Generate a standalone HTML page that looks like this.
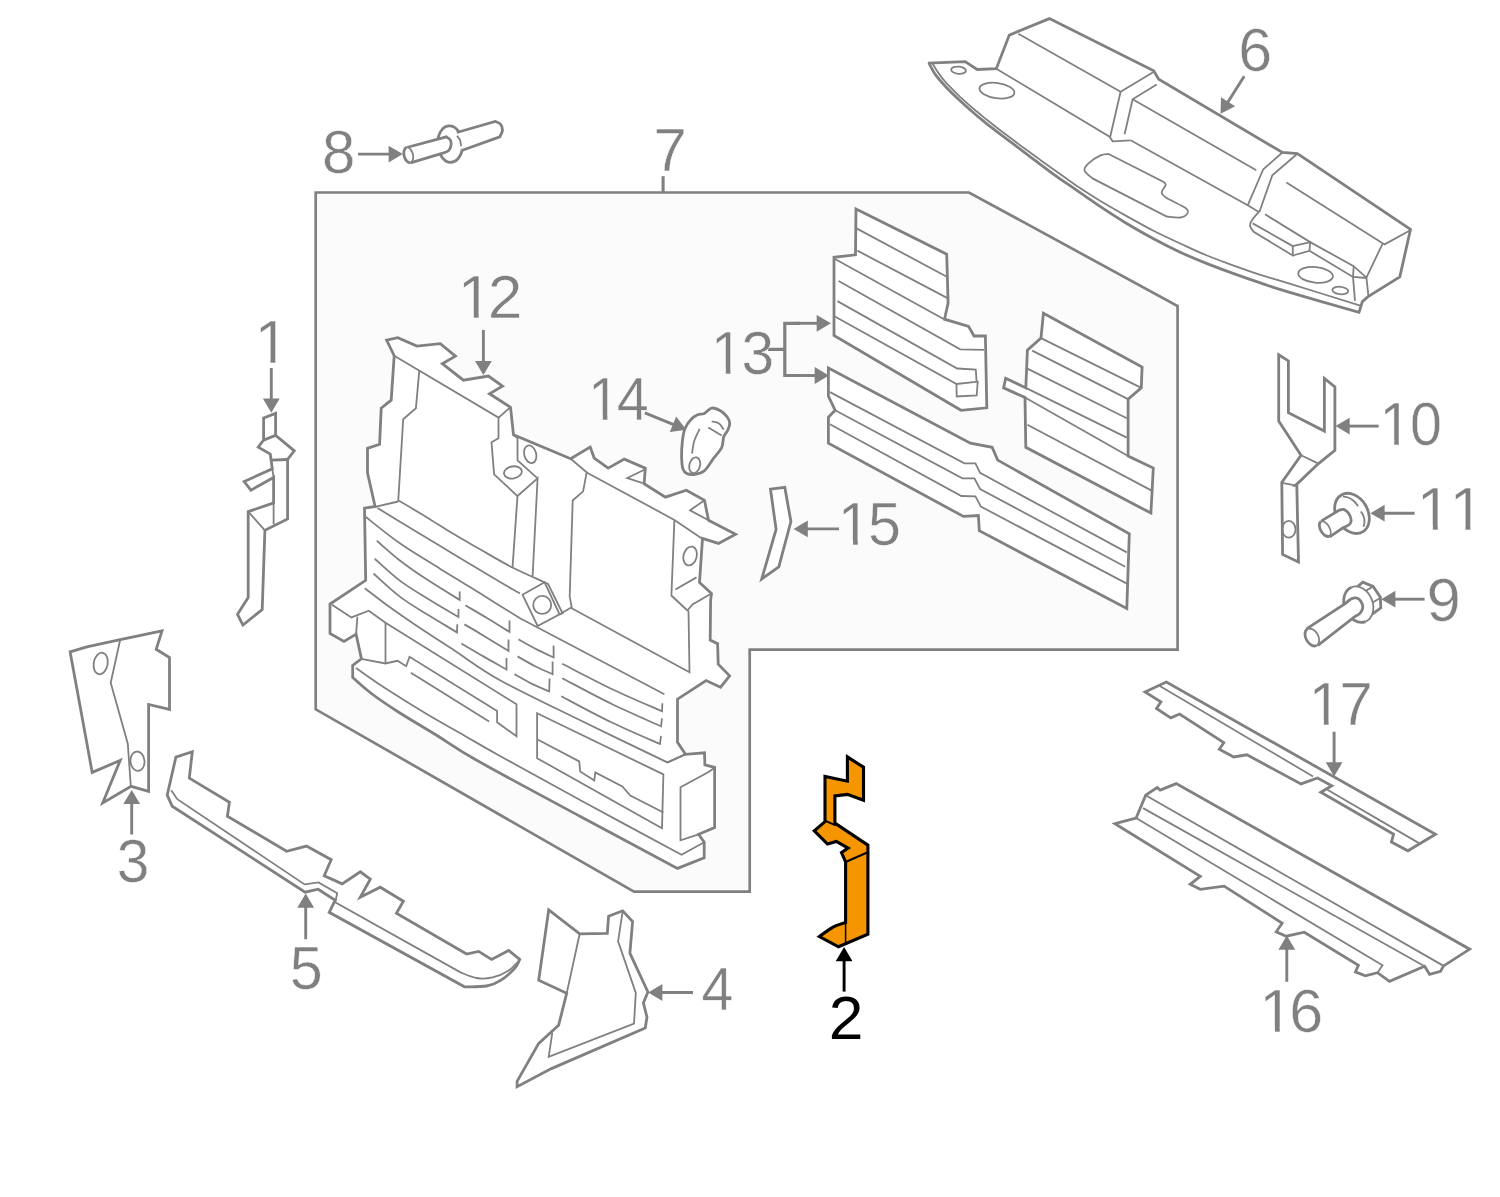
<!DOCTYPE html>
<html lang="en"><head><meta charset="utf-8"><title>Parts diagram</title>
<style>
html,body{margin:0;padding:0;background:#fff;}
svg{display:block;}
svg path, svg ellipse{stroke-linejoin:miter;stroke-linecap:butt;}
svg text{font-family:"Liberation Sans",sans-serif;}
</style></head>
<body>
<svg width="1500" height="1197" viewBox="0 0 1500 1197">
<rect width="1500" height="1197" fill="#ffffff"/>
<path d="M263.6 418 L275.6 413.4 L275.6 435.4 L294.3 450.8 L287.6 459.5 L287.6 519 L264.9 530.3 L262.2 609.6 L242.9 625 L237.5 614.3 L248.2 597.6 L248.2 511.6 L273.6 502.9 L273.6 477.5 L250.9 490.2 L244.2 481.5 L272.3 468.8 L270.3 454.1 L258.2 447.1 L263.6 440.1Z" fill="#ffffff" stroke="#808080" stroke-width="2.8"/>
<path d="M263.6 440.1 L275.6 435.4" fill="none" stroke="#808080" stroke-width="2.8"/>
<path d="M271.2 460.2 L287.6 459.5" fill="none" stroke="#808080" stroke-width="2.8"/>
<path d="M273.6 502.9 L273.6 524.3" fill="none" stroke="#808080" stroke-width="1.8"/>
<path d="M272.3 468.8 L273.6 477.5" fill="none" stroke="#808080" stroke-width="1.8"/>
<path d="M248.2 511.6 L264.9 530.3" fill="none" stroke="#808080" stroke-width="1.8"/>
<path d="M271.3 368 L271.3 400.6" stroke="#808080" stroke-width="2.9" fill="none"/>
<path d="M271.3 412.8 L262.9 398.6 L279.7 398.6 Z" fill="#808080"/>
<path d="M70.1 651.8 L86.8 646.8 L120.2 639.7 L162 630.9 L156.2 649.3 L169.5 657.6 L169.5 709.4 L148.6 704.4 L148.6 791.3 L131.1 786.3 L102.7 803 L120.2 760.4 L92.2 772.4Z" fill="#ffffff" stroke="#808080" stroke-width="2.8"/>
<path d="M120.2 639.7 L110.7 682.7 L127.8 743.7 L130.8 786.3" fill="none" stroke="#808080" stroke-width="1.8"/>
<ellipse cx="100.7" cy="663.5" rx="7" ry="10.9" transform="rotate(10 100.7 663.5)" fill="none" stroke="#808080" stroke-width="1.8"/>
<ellipse cx="137.5" cy="761.2" rx="7" ry="9.7" transform="rotate(-5 137.5 761.2)" fill="none" stroke="#808080" stroke-width="1.8"/>
<path d="M131.7 834.5 L131.7 802.1" stroke="#808080" stroke-width="2.9" fill="none"/>
<path d="M131.7 789.9 L140.1 804.1 L123.3 804.1 Z" fill="#808080"/>
<path d="M175.9 757.1 L192.3 751.7 L189.3 778.1 L229.4 802.2 L227.4 816.2 L286.6 851.3 L306.5 846.1 L331.2 859.7 L324.2 875.8 L342.2 883.8 L360.3 871.8 L370.3 879.2 L360.3 897.2 L380.3 887.2 L403.4 901.2 L396.4 913.3 L466.6 954 L478.6 951.4 L491.6 959.4 L508.7 950.4 L519.7 959.4 C518.9 960.9 517.9 964.9 514.7 968.4 C511.5 971.9 505.3 977.5 500.6 980.4 C496 983.4 492.6 985 486.6 986 C480.6 987.1 468.2 986.7 464.5 986.8 L329.2 912.3 L335.2 900.2 L318.2 889.2 L305.1 892.2 L172.2 806.2 L167.2 795.2Z" fill="#ffffff" stroke="#808080" stroke-width="2.8"/>
<path d="M171.2 790.2 L177.3 799.2 L304.6 884.4 L318.6 882.4 L337.2 893.2 L335.2 902.2 L460.5 972.4 C463.2 973.3 471.2 977.2 476.6 978 C481.9 978.9 487.3 978.7 492.6 977.4 C498 976.1 504.2 973.3 508.7 970.4 C513.2 967.5 517.9 961.7 519.7 960" fill="none" stroke="#808080" stroke-width="1.8"/>
<path d="M305.7 939.2 L305.7 905.8" stroke="#808080" stroke-width="2.9" fill="none"/>
<path d="M305.7 893.6 L314.1 907.8 L297.3 907.8 Z" fill="#808080"/>
<path d="M548.7 909.8 L579.7 933.8 L607.3 933.3 L608.6 916.2 L622.7 910.8 L632.6 921.6 L629.9 953.2 L647.9 992 L643.4 1002.8 L647 1017.2 L645.2 1028 L551.4 1068.6 L517.1 1086.7 L517.1 1081.3 L538.7 1043.4 L558.6 1025.3 L566.7 993.2 L538.7 980.2Z" fill="#ffffff" stroke="#808080" stroke-width="2.8"/>
<path d="M579.7 933.8 L566.7 993.2" fill="none" stroke="#808080" stroke-width="1.8"/>
<path d="M622.7 910.8 L618.1 941.4 L635.8 992.9 L634 1023.5 L548.7 1056.9 L552.3 1032.6" fill="none" stroke="#808080" stroke-width="1.8"/>
<path d="M693 992.5 L660.4 992.5" stroke="#808080" stroke-width="2.9" fill="none"/>
<path d="M648.2 992.5 L662.4 984.1 L662.4 1000.9 Z" fill="#808080"/>
<path d="M847.4 756.9 L863.5 767.2 L863.5 800.3 L847.4 794.4 L834.9 795.9 L834.9 823.1 L867.9 845.1 L867.9 934.3 L838.5 946.8 L819.4 936.5 C821.6 934.9 828.3 929.7 832.6 927.3 C837 925 843.4 923.3 845.6 922.5 L845.6 862 L841.5 852.5 L848.1 848.1 L836.3 841.5 L827.5 844.1 L814.3 830.9 L825 821.6 L825 776.5 L847.4 781.2Z" fill="#f59600" stroke="#000000" stroke-width="3.1"/>
<path d="M825 820.6 L835.6 825.3" fill="none" stroke="#000000" stroke-width="1.9"/>
<path d="M845.6 862 L867.2 852.5" fill="none" stroke="#000000" stroke-width="2.1"/>
<path d="M845.6 922.5 L845.6 943.8" fill="none" stroke="#000000" stroke-width="1.5"/>
<path d="M844.1 991.6 L844.1 959.2" stroke="#000000" stroke-width="2.9" fill="none"/>
<path d="M844.1 947 L852.5 961.2 L835.7 961.2 Z" fill="#000000"/>
<path d="M928.1 63.1 L965.2 61.7 L977.2 69.5 L996.3 68.7 L1009.3 35.1 L1049.4 18.6 L1153.7 70.8 L1158.7 79.2 L1282.4 152.5 L1297.4 153.7 L1410.5 229.4 L1399.8 276.9 L1367.7 296.9 L1362.4 301.6 L1359 312.3 C1347 308.9 1303.6 296.5 1287.2 291.6 C1270.7 286.7 1269.3 286 1260.4 282.9 C1251.5 279.9 1242.6 276.8 1233.7 273.6 C1224.8 270.4 1215.9 267.1 1207 263.6 C1198 260 1189.1 256.3 1180.2 252.2 C1171.3 248.1 1162.4 243.6 1153.5 238.8 C1144.6 234 1135.7 228.9 1126.7 223.5 C1117.8 218.1 1107.7 211.5 1100 206.4 C1092.3 201.2 1085.9 196.5 1080.4 192.8 C1074.9 189 1071.5 186.7 1067.1 183.7 C1062.6 180.6 1058.1 177.5 1053.7 174.3 C1049.2 171.1 1044.8 167.6 1040.3 164.3 C1035.9 160.9 1031.4 157.6 1027 154.3 C1022.5 150.9 1018 147.6 1013.6 144.2 C1009.1 140.9 1004.7 137.6 1000.2 134.2 C995.8 130.8 991.3 127.3 986.8 123.8 C982.4 120.2 977.9 116.7 973.5 112.8 C969 109 964.6 105 960.1 100.8 C955.7 96.6 950.7 91.9 946.7 87.7 C942.7 83.5 939.1 79.6 936 75.4 C933 71.2 929.9 64.8 928.7 62.7" fill="#ffffff" stroke="#808080" stroke-width="2.8"/>
<path d="M932.7 64 C933.9 65.9 937.7 72.2 940.1 75.4 C942.4 78.6 943.4 79.9 946.7 83.4 C950.1 87 955.7 92.6 960.1 96.8 C964.6 101 969 105 973.5 108.8 C977.9 112.6 982.4 116.2 986.8 119.8 C991.3 123.3 995.8 126.8 1000.2 130.2 C1004.7 133.6 1009.1 136.9 1013.6 140.2 C1018 143.6 1022.5 147 1027 150.3 C1031.4 153.5 1035.9 156.6 1040.3 159.9 C1044.8 163.1 1049.2 166.4 1053.7 169.6 C1058.1 172.8 1062.6 175.9 1067.1 179 C1071.5 182.1 1074.9 184.7 1080.4 188.3 C1085.9 192 1092.3 196.1 1100 200.7 C1107.7 205.4 1117.8 211.1 1126.7 216.1 C1135.7 221.1 1144.6 226.3 1153.5 230.8 C1162.4 235.4 1171.3 239.4 1180.2 243.5 C1189.1 247.6 1198 251.9 1207 255.5 C1215.9 259.2 1224.8 262.3 1233.7 265.6 C1242.6 268.8 1251.5 272 1260.4 274.9 C1269.3 277.8 1270.5 277.8 1287.2 282.9 C1303.8 288.1 1348.2 301.8 1360.3 305.6" fill="none" stroke="#808080" stroke-width="1.8"/>
<path d="M1018.3 33.7 L1120.6 91.8 L1153.1 72.2" fill="none" stroke="#808080" stroke-width="1.8"/>
<path d="M1120.6 91.8 L1110.2 136.7" fill="none" stroke="#808080" stroke-width="1.8"/>
<path d="M996.3 68.7 L1109.6 136.7 L1112.6 141.3 L1130.6 140.3" fill="none" stroke="#808080" stroke-width="1.8"/>
<path d="M1156.7 84.6 L1132.6 99.2 L1124.6 134.3" fill="none" stroke="#808080" stroke-width="1.8"/>
<path d="M1132.6 99.2 L1256.3 170.2" fill="none" stroke="#808080" stroke-width="1.8"/>
<path d="M1130.6 140.3 L1247.7 205.3 L1259.3 212.3" fill="none" stroke="#808080" stroke-width="1.8"/>
<path d="M1282.4 152.5 L1263.3 169.2 L1247.7 205.3" fill="none" stroke="#808080" stroke-width="1.8"/>
<path d="M1297.4 153.7 L1272.3 175.2 L1259.3 212.3" fill="none" stroke="#808080" stroke-width="1.8"/>
<path d="M1258.7 212.1 C1257.6 213.4 1253.5 217.7 1252.1 220.1 C1250.6 222.4 1249.7 224.1 1250.1 226.1 C1250.4 228.1 1253.4 231.1 1254.1 232.1 L1254.1 232.1 L1292.8 255.5 L1292.8 246.1 L1252.7 223.4" fill="none" stroke="#808080" stroke-width="1.8"/>
<path d="M1292.8 246.1 L1310.2 242.1 L1309.5 250.8 L1292.8 255.5" fill="none" stroke="#808080" stroke-width="1.8"/>
<path d="M1265 214.3 L1310.2 242.1 L1353.7 266.2 L1366.4 277.6 L1368.4 295.6" fill="none" stroke="#808080" stroke-width="1.8"/>
<path d="M1309.5 250.8 L1353 276.9 L1366.4 278" fill="none" stroke="#808080" stroke-width="1.8"/>
<path d="M1353.7 266.2 L1353 276.9 L1355 300.9" fill="none" stroke="#808080" stroke-width="1.8"/>
<path d="M1286.4 182.6 L1384.6 244.4 L1410.3 230.3" fill="none" stroke="#808080" stroke-width="1.8"/>
<path d="M1382.4 244.1 L1366.4 277.6" fill="none" stroke="#808080" stroke-width="1.8"/>
<ellipse cx="1315.6" cy="274.9" rx="17.4" ry="7.8" transform="rotate(6 1315.6 274.9)" fill="none" stroke="#808080" stroke-width="1.8"/>
<ellipse cx="1340.3" cy="290.5" rx="8" ry="3.7" transform="rotate(6 1340.3 290.5)" fill="none" stroke="#808080" stroke-width="1.8"/>
<ellipse cx="958.6" cy="70.2" rx="7.4" ry="3.6" transform="rotate(5 958.6 70.2)" fill="none" stroke="#808080" stroke-width="1.8"/>
<ellipse cx="996.9" cy="90.6" rx="17.6" ry="7.6" transform="rotate(8 996.9 90.6)" fill="none" stroke="#808080" stroke-width="1.8"/>
<path d="M1108.6 154 L1162.7 181.4 C1163.2 182 1165.9 183 1165.7 184.8 C1165.5 186.7 1161.5 190.3 1161.7 192.5 C1161.9 194.7 1162.9 195.6 1166.7 198.1 C1170.6 200.6 1181.2 205.1 1184.8 207.5 C1188.3 209.9 1188.4 210.8 1187.8 212.5 C1187.1 214.2 1184.3 216.9 1180.7 217.5 C1177.2 218.2 1169.1 216.7 1166.7 216.5 L1092.5 178.4 C1091.2 177.1 1085.2 172.9 1084.5 170.4 C1083.8 167.9 1085.8 165.9 1088.5 163.4 C1091.2 160.9 1097.2 156.9 1100.5 155.4 C1103.9 153.8 1107.2 154.2 1108.6 154Z" fill="none" stroke="#808080" stroke-width="1.8"/>
<path d="M1244.2 76.2 L1227 103.5" stroke="#808080" stroke-width="2.9" fill="none"/>
<path d="M1220.5 113.8 L1221 97.3 L1235.2 106.3 Z" fill="#808080"/>
<path d="M315.7 192.5 L969 192.5 L1177.6 306 L1177.6 649.6 L749.7 649.6 L749.7 891.6 L634 891.6 L315.7 709.3 Z" fill="#fbfbfb" stroke="#808080" stroke-width="2.7"/>
<path d="M663.1 176.2 L663.1 192" fill="none" stroke="#808080" stroke-width="3.1"/>
<ellipse cx="450.1" cy="144.1" rx="12.4" ry="18.2" transform="rotate(-4 450.1 144.1)" fill="#ffffff" stroke="#808080" stroke-width="2.8"/>
<path d="M456.8 132.5 L495.2 121.4 C496.1 121.8 499.3 122.6 500.5 124.1 C501.7 125.5 502.6 128 502.5 130.1 C502.4 132.2 500.3 135.6 499.8 136.8 L461.7 150.5" fill="#ffffff" stroke="#808080" stroke-width="2.8"/>
<path d="M457.1 135.8 C457.5 136.5 459.3 138.4 460 140.1 C460.7 141.8 460.9 145.1 461.1 146.1" fill="none" stroke="#808080" stroke-width="1.8"/>
<path d="M406.7 147.5 L446.4 136.8 C447 137.3 449.6 138.7 450.4 140.1 C451.2 141.5 451.4 143.7 451 145.4 C450.7 147.2 449.6 149.6 448.4 150.8 C447.1 152 444.5 152.5 443.7 152.8 L410.5 162.8" fill="#ffffff" stroke="#808080" stroke-width="2.8"/>
<ellipse cx="408.5" cy="155.1" rx="4.8" ry="7.9" transform="rotate(-14 408.5 155.1)" fill="#ffffff" stroke="none"/>
<path d="M406.6 147.4 A4.8 7.9 -14 0 0 410.4 162.7" fill="none" stroke="#808080" stroke-width="2.8"/>
<path d="M406.6 147.4 A4.8 7.9 -14 0 1 410.4 162.7" fill="none" stroke="#808080" stroke-width="1.8"/>
<path d="M358 154.1 L390.6 154.1" stroke="#808080" stroke-width="2.9" fill="none"/>
<path d="M402.8 154.1 L388.6 162.5 L388.6 145.7 Z" fill="#808080"/>
<path d="M1278.7 354.7 L1288.4 360.9 L1288.4 412.7 L1324.4 431.1 L1324.4 378.4 L1334.9 386.8 L1334.9 450.3 L1318.5 463.6 L1295.5 485.4 L1296.8 485.4 L1298.5 561.9 L1282.6 554.4 L1281.8 482.5 L1301 455.3 L1278.7 421Z" fill="#ffffff" stroke="#808080" stroke-width="2.8"/>
<path d="M1301 455.3 L1318.5 463.6" fill="none" stroke="#808080" stroke-width="1.8"/>
<path d="M1281.8 482.9 L1295.5 485.4" fill="none" stroke="#808080" stroke-width="1.8"/>
<clipPath id="c10"><path d="M1278.7 354.7 L1288.4 360.9 L1288.4 412.7 L1324.4 431.1 L1324.4 378.4 L1334.9 386.8 L1334.9 450.3 L1318.5 463.6 L1295.5 485.4 L1296.8 485.4 L1298.5 561.9 L1282.6 554.4 L1281.8 482.5 L1301 455.3 L1278.7 421Z"/></clipPath>
<ellipse cx="1288.8" cy="529.3" rx="6.7" ry="8.4" fill="none" stroke="#808080" stroke-width="1.8" clip-path="url(#c10)"/>
<path d="M1378.7 426.1 L1347.7 426.1" stroke="#808080" stroke-width="2.9" fill="none"/>
<path d="M1335.5 426.1 L1349.7 417.7 L1349.7 434.5 Z" fill="#808080"/>
<ellipse cx="1352" cy="513.4" rx="15.8" ry="21.3" transform="rotate(-30 1352 513.4)" fill="#ffffff" stroke="#808080" stroke-width="2.8"/>
<path d="M1342.8 496.4 C1343.7 496.6 1346.3 496.8 1348.1 497.5 C1349.9 498.2 1351.8 499.3 1353.5 500.7 C1355.1 502.1 1357.4 505.2 1358.2 506.1" fill="none" stroke="#808080" stroke-width="1.8"/>
<path d="M1360.8 511.4 C1361.3 512.2 1362.9 514.4 1363.5 516.1 C1364.1 517.8 1364.5 519.7 1364.5 521.4 C1364.5 523.2 1363.7 525.9 1363.5 526.8" fill="none" stroke="#808080" stroke-width="1.8"/>
<path d="M1321.1 521.1 L1339.4 510.1 C1340.1 510 1342 509 1343.4 509.4 C1344.9 509.9 1346.8 511.1 1348.1 512.7 C1349.4 514.4 1350.9 517.5 1351.1 519.4 C1351.4 521.4 1350.7 523.1 1349.5 524.4 C1348.2 525.8 1344.5 527.1 1343.4 527.6 L1329.7 536.9" fill="#ffffff" stroke="#808080" stroke-width="2.8"/>
<ellipse cx="1325.1" cy="528.9" rx="5.2" ry="8.6" transform="rotate(-30 1325.1 528.9)" fill="#ffffff" stroke="none"/>
<path d="M1320.8 521.5 A5.2 8.6 -30 0 0 1329.3 536.3" fill="none" stroke="#808080" stroke-width="2.8"/>
<path d="M1320.8 521.5 A5.2 8.6 -30 0 1 1329.3 536.3" fill="none" stroke="#808080" stroke-width="1.8"/>
<path d="M1414.6 513.2 L1382.6 513.2" stroke="#808080" stroke-width="2.9" fill="none"/>
<path d="M1370.4 513.2 L1384.6 504.8 L1384.6 521.6 Z" fill="#808080"/>
<path d="M1357.3 586.9 L1362.8 582.1 L1373.1 586.5 L1380.4 597.2 L1380.8 607.9 L1373.5 613.4 L1363.5 606.8" fill="#ffffff" stroke="#808080" stroke-width="2.8"/>
<path d="M1363.5 592.1 L1373.1 586.5" fill="none" stroke="#808080" stroke-width="1.8"/>
<path d="M1371.6 603.1 L1380.4 597.9" fill="none" stroke="#808080" stroke-width="1.8"/>
<ellipse cx="1358.5" cy="604.4" rx="14.1" ry="18.5" transform="rotate(-22 1358.5 604.4)" fill="#ffffff" stroke="none"/>
<path d="M1351.6 587.2 A14.1 18.5 -22 0 0 1365.5 621.6" fill="none" stroke="#808080" stroke-width="2.8"/>
<path d="M1351.6 587.2 A14.1 18.5 -22 0 1 1365.5 621.6" fill="none" stroke="#808080" stroke-width="1.8"/>
<path d="M1306.5 628.8 L1345.9 603.1 C1346.7 602.4 1349.3 599.9 1351 599 C1352.7 598.2 1354.6 597.6 1356.2 597.9 C1357.8 598.2 1359.5 599.3 1360.6 600.9 C1361.7 602.5 1362.9 605.4 1362.8 607.5 C1362.7 609.6 1361.1 611.9 1359.9 613.4 C1358.6 614.8 1356.2 615.7 1355.4 616.2 L1317.9 645.4" fill="#ffffff" stroke="#808080" stroke-width="2.8"/>
<ellipse cx="1312.1" cy="637.3" rx="6.2" ry="9.4" transform="rotate(-30 1312.1 637.3)" fill="#ffffff" stroke="none"/>
<path d="M1307.4 629.1 A6.2 9.4 -30 0 0 1316.8 645.4" fill="none" stroke="#808080" stroke-width="2.8"/>
<path d="M1307.4 629.1 A6.2 9.4 -30 0 1 1316.8 645.4" fill="none" stroke="#808080" stroke-width="1.8"/>
<path d="M1424.6 599.2 L1393.4 599.2" stroke="#808080" stroke-width="2.9" fill="none"/>
<path d="M1381.2 599.2 L1395.4 590.8 L1395.4 607.6 Z" fill="#808080"/>
<path d="M386.6 340.1 L397.8 337.6 L416.9 346.1 L440.3 343.7 L455.4 356.1 L442.3 363.7 L463.4 380.2 L488.4 376.1 L502.5 386.2 L489.5 393.8 L510.5 407.2 L513.5 434.7 L570.7 458.7 L590.2 447.1 L594.2 458.1 L608.2 468.2 L624.3 459.1 L645.3 468.2 L644.1 483.8 L665.4 497.2 L686.4 490.2 L704.5 500.3 L708.5 520.3 L735.6 534.3 L718.5 543.4 L702.5 538.3 L699.5 582.5 L711.5 593.5 L710.6 600 L710.2 640.1 L717.6 643.7 L718.2 664.2 L729.6 675.8 L720.6 687.2 L706.1 680.6 L677.5 699.2 L677.5 742.4 L685.5 754.4 L704.5 752.8 L704.9 764.8 L714.6 767.4 L714.6 827.6 L698.6 834.3 L704.2 842.3 L704.2 857.9 L677.5 868.4 C661.3 859.7 613.7 834.4 580.3 816.4 C546.9 798.5 501 774 477.1 760.5 C453.2 747 450.4 743.8 437 735.5 C423.6 727.2 407.9 718.2 396.8 711 C385.7 703.8 377.4 698.1 370.1 692.5 C362.8 686.9 355.6 680 352.7 677.5 L352.7 677.5 L352.7 665.5 L361.4 658.8 L356.1 634.1 L344 641.4 L330 633.4 L330 604 L365.7 580.3 L364.5 508.1 L375.1 506.5 L367.5 472.8 L367.5 448.3 L379.6 444.3 L381.2 408.2 L391.2 400.2 L394.2 355.7Z" fill="#ffffff" stroke="#808080" stroke-width="2.8"/>
<path d="M394.2 355.7 L498.5 417.6 L510.5 407.2" fill="none" stroke="#808080" stroke-width="1.8"/>
<path d="M419.3 370.5 L415.9 408.2 L403.2 419.2 L398.2 501.5" fill="none" stroke="#808080" stroke-width="1.8"/>
<path d="M375.1 506.9 L398.2 501.5" fill="none" stroke="#808080" stroke-width="1.8"/>
<path d="M498.5 417.6 L498.5 438.3 L491.5 442.3 L494.1 474.4 L517.5 496 L512.5 567.6" fill="none" stroke="#808080" stroke-width="1.8"/>
<path d="M517.5 496 L537.6 478.4 L532.6 576.2" fill="none" stroke="#808080" stroke-width="1.8"/>
<path d="M513.5 434.7 L517.5 438.3 L517.5 460.4 L537.6 478.4" fill="none" stroke="#808080" stroke-width="1.8"/>
<ellipse cx="530.2" cy="454.3" rx="6" ry="9" transform="rotate(-15 530.2 454.3)" fill="none" stroke="#808080" stroke-width="1.8"/>
<ellipse cx="512.9" cy="472.4" rx="9" ry="6" transform="rotate(-10 512.9 472.4)" fill="none" stroke="#808080" stroke-width="1.8"/>
<path d="M570.7 458.7 L586.7 472.4 L583.1 491.4 L572.7 500.5 L569.7 596.3 L571.7 607.3 L571.2 608 L689.5 672.2 L688.5 611" fill="none" stroke="#808080" stroke-width="1.8"/>
<path d="M586.2 472.2 L674.4 519.9 L701.5 538.3" fill="none" stroke="#808080" stroke-width="1.8"/>
<path d="M674.4 519.9 L671.4 595.5 L687.4 610.5" fill="none" stroke="#808080" stroke-width="1.8"/>
<path d="M687.4 610.5 L688.5 611" fill="none" stroke="#808080" stroke-width="1.8"/>
<path d="M687.4 610.5 L692.5 604.5 L711.5 593.5" fill="none" stroke="#808080" stroke-width="1.8"/>
<path d="M675.4 589.5 L696.5 577.4" fill="none" stroke="#808080" stroke-width="1.8"/>
<ellipse cx="690.1" cy="556" rx="6.6" ry="9.6" transform="rotate(15 690.1 556)" fill="none" stroke="#808080" stroke-width="1.8"/>
<path d="M645.3 469.2 L627.3 478 L642.7 483.2" fill="none" stroke="#808080" stroke-width="1.8"/>
<path d="M704.5 500.3 L690.1 510.3 L708.5 520.3" fill="none" stroke="#808080" stroke-width="1.8"/>
<path d="M522.5 594.7 L544.6 582.3 L559.6 614.3 L537.6 626Z" fill="none" stroke="#808080" stroke-width="1.8"/>
<ellipse cx="542.2" cy="604.9" rx="9" ry="9" transform="rotate(0 542.2 604.9)" fill="none" stroke="#808080" stroke-width="1.8"/>
<path d="M544.6 582.3 L548 583.9 L562.6 613.3 L559.6 614.3" fill="none" stroke="#808080" stroke-width="1.8"/>
<path d="M571.7 607.3 L559.6 614.3" fill="none" stroke="#808080" stroke-width="1.8"/>
<path d="M398.9 500.7 C403.6 503.5 417.8 511.8 427 517.4 C436.1 523 444.8 528.8 453.7 534.1 C462.6 539.5 470.6 543.9 480.4 549.5 C490.2 555.1 501.8 562.1 512.5 567.5 C523.2 573 539.3 579.8 544.6 582.3" fill="none" stroke="#808080" stroke-width="1.8"/>
<path d="M377.5 508 C383.5 511.7 400.9 522.4 413.6 530.1 C426.3 537.8 440.3 546.1 453.7 554.2 C467.1 562.2 482.7 571.6 493.8 578.2 C504.8 584.8 515.6 591 520 593.6" fill="none" stroke="#808080" stroke-width="1.8"/>
<path d="M365.5 516.7 C371.2 521.2 387.7 534.8 400.2 543.5 C412.7 552.2 427 560.5 440.3 568.9 C453.7 577.2 467.1 585.3 480.4 593.6 C493.7 601.8 513.4 614.2 520 618.3 L664.4 694.2" fill="none" stroke="#808080" stroke-width="1.8"/>
<path d="M376.8 540.8 C380.7 544.1 391.9 554.4 400.2 560.8 C408.6 567.3 417 573.1 427 579.6 C436.9 586.1 454.2 596.5 459.7 599.9 L459.7 591.6" fill="none" stroke="#808080" stroke-width="1.8"/>
<path d="M374.8 558.8 C379 562.5 391.5 574.3 400.2 580.9 C408.9 587.5 417.3 592.3 427 598.3 C436.6 604.3 453.1 613.9 458.4 617 L458.6 609" fill="none" stroke="#808080" stroke-width="1.8"/>
<path d="M373.5 573.5 C377.9 577.4 391.3 590.1 400.2 596.9 C409.1 603.7 417.5 608.4 427 614.3 C436.4 620.2 452 629.3 457 632.4 L457.3 624.3" fill="none" stroke="#808080" stroke-width="1.8"/>
<path d="M465.4 605.3 C469.1 607.5 480.1 613.9 487.4 618.3 C494.8 622.8 505.8 629.7 509.5 632 L509.5 620.4" fill="none" stroke="#808080" stroke-width="1.8"/>
<path d="M464.4 624.4 C468.1 626.5 479.1 632.9 486.4 637.4 C493.8 641.8 504.8 648.8 508.5 651 L508.5 639.4" fill="none" stroke="#808080" stroke-width="1.8"/>
<path d="M461.4 643.4 C465.1 645.6 475.9 652.1 483.4 656.4 C491 660.8 502.7 667.3 506.5 669.5 L506.5 658" fill="none" stroke="#808080" stroke-width="1.8"/>
<path d="M518.5 639.4 C521.5 641.1 530.7 646.4 536.6 649.4 C542.4 652.4 550.8 656.1 553.6 657.4 L553.6 645.4" fill="none" stroke="#808080" stroke-width="1.8"/>
<path d="M517.5 656.4 C520.5 658.1 529.7 663.5 535.6 666.5 C541.4 669.4 549.8 672.8 552.6 674.1 L552.6 661.5" fill="none" stroke="#808080" stroke-width="1.8"/>
<path d="M514.5 674.1 C517.5 675.8 526.8 681.2 532.6 684.1 C538.3 687 546.4 690.3 549.2 691.5 L549.6 678.5" fill="none" stroke="#808080" stroke-width="1.8"/>
<path d="M562.2 663.8 C570.5 668 595.7 681.3 612.3 689.2 C628.9 697.1 653.7 707.6 662 711.3 L662.4 703.3" fill="none" stroke="#808080" stroke-width="1.8"/>
<path d="M562.2 678.2 C570.5 682.5 595.8 696.2 612.3 704.3 C628.8 712.3 652.9 722.6 661 726.3 L662 718.3" fill="none" stroke="#808080" stroke-width="1.8"/>
<path d="M561.2 696.2 C569.5 700.6 594.8 714.4 611.3 722.3 C627.8 730.3 651.9 740.4 660 744 L661 735.9" fill="none" stroke="#808080" stroke-width="1.8"/>
<path d="M364.8 588.2 C368.5 591 378.7 599.1 386.8 605 C395 610.9 402.4 616.2 413.6 623.7 C424.7 631.2 439.3 640.6 453.7 650 C468.1 659.4 478.9 668.5 500 680.2 C521.1 691.9 552.3 706.6 580.2 720.3 C608.1 734 652.9 755.4 667.4 762.4 L685.5 754.4" fill="none" stroke="#808080" stroke-width="1.8"/>
<path d="M332 604.7 L351.4 617.4 L368.8 610.7 L385.5 622.7 L516.5 704.3 L516.5 736.3 L497.1 722.3 L497.1 710.9 L409.5 656.8 L406.2 666.2 L397.5 660.8 L385.5 663.5 L361.4 658.8" fill="none" stroke="#808080" stroke-width="1.8"/>
<path d="M357.4 616.7 L356.1 634.1" fill="none" stroke="#808080" stroke-width="1.8"/>
<path d="M385.5 622.7 L385.5 663.5" fill="none" stroke="#808080" stroke-width="1.8"/>
<path d="M410.9 672.8 L489.1 721.6" fill="none" stroke="#808080" stroke-width="1.8"/>
<path d="M356 668 C360.8 671.3 373.5 680.5 385 688 C396.5 695.5 411.7 705 425 713 C438.3 721 452.5 728.8 465 736 C477.5 743.2 480.8 745.3 500 756 C519.2 766.7 549.7 783.5 580 800 C610.3 816.5 664.6 845.6 681.5 854.7 L704.2 842.3" fill="none" stroke="#808080" stroke-width="1.8"/>
<path d="M537.1 713.3 L663.4 774.4 L662 828.3 L537.1 758.2 Z" fill="none" stroke="#808080" stroke-width="1.8"/>
<path d="M537.1 739.3 L579.2 761.4 L580.2 771.4 L594.3 780.5 L595.3 772.4 L622.3 786.5 L630.3 795.5 L663.4 812.5" fill="none" stroke="#808080" stroke-width="1.8"/>
<path d="M714.6 767.7 L708.6 772.1 L680.5 787.2 L680.5 840.3 L698.6 834.3" fill="none" stroke="#808080" stroke-width="1.8"/>
<path d="M667.5 762.5 L685.5 754.1" fill="none" stroke="#808080" stroke-width="1.8"/>
<path d="M483.4 330 L483.4 362.9" stroke="#808080" stroke-width="2.9" fill="none"/>
<path d="M483.4 375.1 L475 360.9 L491.8 360.9 Z" fill="#808080"/>
<path d="M856 209 L946.7 254.2 L948.1 303 L944.5 319.2 L968.6 326.4 L974 336 L985.4 336 L986.8 407.8 L961 410.3 L834 335.4 L834 257.3 L855.5 254.8Z" fill="#ffffff" stroke="#808080" stroke-width="2.8"/>
<path d="M856 228.1 L947.3 277" fill="none" stroke="#808080" stroke-width="1.8"/>
<path d="M857.3 250.6 L947.5 298.1" fill="none" stroke="#808080" stroke-width="1.8"/>
<path d="M835 259 L944 319.2" fill="none" stroke="#808080" stroke-width="1.8"/>
<path d="M838.6 281 L960.2 349.3 L984 349.9" fill="none" stroke="#808080" stroke-width="1.8"/>
<path d="M837.4 301.1 L957.2 368.5 L975.8 369.7 L976.6 382" fill="none" stroke="#808080" stroke-width="1.8"/>
<path d="M834.4 316.2 L956.5 384 L977.7 381.7 L976.7 395.5 L956.7 396.5 L956.5 384" fill="none" stroke="#808080" stroke-width="1.8"/>
<path d="M828.4 368 L970.4 443.2 L992.1 447.3 L997.7 460.1 L1129.3 533.9 L1126.8 608.5 L979.3 530.7 L978.4 515.5 L963.4 516.4 L828.4 443.2 L828.4 417.2 L835.1 410.2 L828.4 396.1Z" fill="#ffffff" stroke="#808080" stroke-width="2.8"/>
<path d="M830 392.1 L964.4 463.3 L975.4 463.3 L980.1 472.9 L1126.8 552.4" fill="none" stroke="#808080" stroke-width="1.8"/>
<path d="M835.1 410.2 L962.4 478.3 L974.4 478.3 L980.1 489 L1125.2 566.8" fill="none" stroke="#808080" stroke-width="1.8"/>
<path d="M830 424.2 L961.4 496 L975.4 496.4 L980.9 506.6 L1126.8 583.6" fill="none" stroke="#808080" stroke-width="1.8"/>
<path d="M1043.4 313.3 L1142.1 367 L1141.3 387.9 L1128.1 399.1 L1128.1 456 L1153.3 468.1 L1150.9 513.1 L1025.8 447.3 L1025 397.5 L1003.6 387.9 L1005.7 378.2 L1025.8 387.9 L1027.4 350.2 L1041 338.1Z" fill="#ffffff" stroke="#808080" stroke-width="2.8"/>
<path d="M1041 338.1 L1141.3 387.9" fill="none" stroke="#808080" stroke-width="1.8"/>
<path d="M1032.2 350.6 L1128.1 399.1" fill="none" stroke="#808080" stroke-width="1.8"/>
<path d="M1027.4 368.6 L1126.8 418.3" fill="none" stroke="#808080" stroke-width="1.8"/>
<path d="M1025.8 387.9 L1126.8 437.6" fill="none" stroke="#808080" stroke-width="1.8"/>
<path d="M1025 397.5 L1128.1 456" fill="none" stroke="#808080" stroke-width="1.8"/>
<path d="M1027.4 424.8 L1151.7 490.6" fill="none" stroke="#808080" stroke-width="1.8"/>
<path d="M768 349.3 L784.8 349.3 M800 323.3 L784.8 323.3 L784.8 375.5 L800 375.5" fill="none" stroke="#808080" stroke-width="3.2"/>
<path d="M795 323.3 L818.7 323.3" stroke="#808080" stroke-width="2.9" fill="none"/>
<path d="M830.9 323.3 L816.7 331.7 L816.7 314.9 Z" fill="#808080"/>
<path d="M795 375.5 L816.7 375.5" stroke="#808080" stroke-width="2.9" fill="none"/>
<path d="M828.9 375.5 L814.7 383.9 L814.7 367.1 Z" fill="#808080"/>
<path d="M684.9 428.8 C686.4 425 688.8 421.8 691 419.5 C693.1 417.1 695.4 415.8 697.6 414.8 C699.9 413.8 702 414.6 704.3 413.4 C706.7 412.3 709 408.5 711.7 408.1 C714.4 407.6 717.8 409.3 720.4 410.8 C722.9 412.2 725.5 414.7 727.1 416.8 C728.6 418.9 729.6 421.2 729.7 423.5 C729.8 425.7 728.7 427.9 727.7 430.2 C726.7 432.4 724.7 433.9 723.7 436.8 C722.7 439.7 723.4 444 721.7 447.5 C720 451.1 716.6 454.3 713.7 458.2 C710.8 462.1 707.5 468.2 704.3 470.9 C701.2 473.6 697.9 473.8 695 474.3 C692.1 474.7 689 474.5 687 473.6 C684.9 472.7 683.8 471.7 682.9 468.9 C682 466.1 681.7 461.3 681.6 456.9 C681.5 452.4 681.7 446.9 682.3 442.2 C682.8 437.5 683.5 432.6 684.9 428.8Z" fill="#ffffff" stroke="#808080" stroke-width="2.8"/>
<ellipse cx="694.7" cy="465.2" rx="5.3" ry="8" transform="rotate(15 694.7 465.2)" fill="none" stroke="#808080" stroke-width="1.8"/>
<path d="M699.7 428.8 C698.8 430.8 695.6 436.7 694.3 440.8 C693 445 692.4 451.4 692 453.5" fill="none" stroke="#808080" stroke-width="1.8"/>
<path d="M711.7 421.5 C712.9 421.8 717 422.1 719 423.5 C721 424.8 722.9 428.5 723.7 429.5" fill="none" stroke="#808080" stroke-width="1.8"/>
<path d="M708.3 427.5 L721.7 435.5" fill="none" stroke="#808080" stroke-width="1.8"/>
<path d="M644.8 412.8 L674.9 425.1" stroke="#808080" stroke-width="2.9" fill="none"/>
<path d="M686.2 429.7 L669.8 432.1 L676.2 416.6 Z" fill="#808080"/>
<path d="M770.5 489.1 L784.8 487.4 L790.9 521.5 L778.8 566.9 L761.7 579 L776.1 529.5Z" fill="#ffffff" stroke="#808080" stroke-width="2.8"/>
<path d="M839 528.9 L805.8 528.9" stroke="#808080" stroke-width="2.9" fill="none"/>
<path d="M793.6 528.9 L807.8 520.5 L807.8 537.3 Z" fill="#808080"/>
<path d="M1145 692 L1166.4 682.1 L1435.5 834.2 L1407.9 850.8 L1391.4 842 L1393.6 834.2 L1320.8 792.3 L1331.8 785.7 L1317.5 778 L1301 783.9 L1246.9 754.8 L1233.7 757 L1219.3 749.3 L1223.8 742.7 L1179.6 714 L1170.8 717.8 L1156.5 708.5 L1160.9 701.9Z" fill="#ffffff" stroke="#808080" stroke-width="2.8"/>
<path d="M1159.8 686 L1313.1 776.5" fill="none" stroke="#808080" stroke-width="1.8"/>
<path d="M1327.4 789.7 L1419 843.1" fill="none" stroke="#808080" stroke-width="1.8"/>
<path d="M1334.1 731.7 L1334.1 764.2" stroke="#808080" stroke-width="2.9" fill="none"/>
<path d="M1334.1 776.4 L1325.7 762.2 L1342.5 762.2 Z" fill="#808080"/>
<path d="M1115 823.7 L1136.1 818.1 L1145.7 795.1 L1157.2 787.6 L1160.2 790.1 L1176.2 783.6 L1469.7 949.2 L1443.6 965.9 L1440.6 971.3 L1429.6 974.3 L1424.6 966.3 L1389.5 981.3 L1377.5 972.7 L1365.4 975.9 L1355.4 971.9 L1358.4 965.3 L1304.3 932.2 L1286.2 936.2 L1276.2 931.8 L1282.2 923.2 L1224.1 886.1 L1200.3 889.3 L1190.2 884.3 L1200.3 876.3Z" fill="#ffffff" stroke="#808080" stroke-width="2.8"/>
<path d="M1146.5 795.7 L1443.6 965.9" fill="none" stroke="#808080" stroke-width="1.8"/>
<path d="M1143.1 808.1 L1424.6 966.3" fill="none" stroke="#808080" stroke-width="1.8"/>
<path d="M1136.1 818.1 L1382.5 965.3 L1377.5 972.7" fill="none" stroke="#808080" stroke-width="1.8"/>
<path d="M1286.8 981.8 L1286.8 947.8" stroke="#808080" stroke-width="2.9" fill="none"/>
<path d="M1286.8 935.6 L1295.2 949.8 L1278.4 949.8 Z" fill="#808080"/>
<clipPath id="lc1"><path d="M250.4 303 H283.7 V357.7 H250.4 Z M270.47 356.7 H275.36 V366 H270.47 Z"/></clipPath>
<g clip-path="url(#lc1)"><text transform="translate(254.42 363) scale(1.03 1)" x="0" y="0" font-size="60.5" fill="#808080" stroke="#ffffff" stroke-width="0.5">1</text></g>
<text transform="translate(828.85 1039) scale(1.03 1)" x="0" y="0" font-size="60.5" fill="#000000" stroke="none" stroke-width="0.5">2</text>
<text transform="translate(116.85 882) scale(0.97 1)" x="0" y="0" font-size="60.5" fill="#808080" stroke="#ffffff" stroke-width="0.5">3</text>
<text transform="translate(701.58 1010) scale(0.95 1)" x="0" y="0" font-size="60.5" fill="#808080" stroke="#ffffff" stroke-width="0.5">4</text>
<text transform="translate(289.87 989) scale(0.98 1)" x="0" y="0" font-size="60.5" fill="#808080" stroke="#ffffff" stroke-width="0.5">5</text>
<text transform="translate(1238.19 71) scale(1.01 1)" x="0" y="0" font-size="60.5" fill="#808080" stroke="#ffffff" stroke-width="0.5">6</text>
<text transform="translate(653.61 171) scale(0.99 1)" x="0" y="0" font-size="60.5" fill="#808080" stroke="#ffffff" stroke-width="0.5">7</text>
<text transform="translate(322.06 173) scale(0.99 1)" x="0" y="0" font-size="60.5" fill="#808080" stroke="#ffffff" stroke-width="0.5">8</text>
<text transform="translate(1426.49 621) scale(1.02 1)" x="0" y="0" font-size="60.5" fill="#808080" stroke="#ffffff" stroke-width="0.5">9</text>
<clipPath id="lc2"><path d="M1375.5 385 H1447.4 V439.7 H1375.5 Z M1394.26 438.7 H1398.77 V448 H1394.26 Z M1409.9 438.7 H1447.4 V449 H1409.9 Z"/></clipPath>
<g clip-path="url(#lc2)"><text transform="translate(1379.46 445) scale(0.95 1)" x="0 32.11" y="0" font-size="60.5" fill="#808080" stroke="#ffffff" stroke-width="0.5">10</text></g>
<clipPath id="lc3"><path d="M1412.8 470 H1478.2 V524.7 H1412.8 Z M1432.87 523.7 H1437.76 V533 H1432.87 Z M1465.47 523.7 H1470.36 V533 H1465.47 Z"/></clipPath>
<g clip-path="url(#lc3)"><text transform="translate(1416.82 530) scale(1.03 1)" x="0 31.65" y="0" font-size="60.5" fill="#808080" stroke="#ffffff" stroke-width="0.5">11</text></g>
<clipPath id="lc4"><path d="M453.7 258 H527.2 V312.7 H453.7 Z M473.77 311.7 H478.66 V321 H473.77 Z M490.7 311.7 H527.2 V322 H490.7 Z"/></clipPath>
<g clip-path="url(#lc4)"><text transform="translate(457.72 318) scale(1.03 1)" x="0 29.29" y="0" font-size="60.5" fill="#808080" stroke="#ffffff" stroke-width="0.5">12</text></g>
<clipPath id="lc5"><path d="M706.7 314 H779.2 V368.7 H706.7 Z M725.81 367.7 H730.42 V377 H725.81 Z M741.8 367.7 H779.2 V378 H741.8 Z"/></clipPath>
<g clip-path="url(#lc5)"><text transform="translate(710.7 374) scale(0.97 1)" x="0 31.64" y="0" font-size="60.5" fill="#808080" stroke="#ffffff" stroke-width="0.5">13</text></g>
<clipPath id="lc6"><path d="M584.1 360 H654.8 V414.7 H584.1 Z M602.86 413.7 H607.37 V423 H602.86 Z M618.5 413.7 H654.8 V424 H618.5 Z"/></clipPath>
<g clip-path="url(#lc6)"><text transform="translate(588.06 420) scale(0.95 1)" x="0 30.13" y="0" font-size="60.5" fill="#808080" stroke="#ffffff" stroke-width="0.5">14</text></g>
<clipPath id="lc7"><path d="M833.8 485 H906.5 V539.7 H833.8 Z M853.09 538.7 H857.74 V548 H853.09 Z M869.2 538.7 H906.5 V549 H869.2 Z"/></clipPath>
<g clip-path="url(#lc7)"><text transform="translate(837.82 545) scale(0.98 1)" x="0 30.84" y="0" font-size="60.5" fill="#808080" stroke="#ffffff" stroke-width="0.5">15</text></g>
<clipPath id="lc8"><path d="M1255.2 972 H1328.3 V1026.7 H1255.2 Z M1274.91 1025.7 H1279.71 V1035 H1274.91 Z M1291.6 1025.7 H1328.3 V1036 H1291.6 Z"/></clipPath>
<g clip-path="url(#lc8)"><text transform="translate(1259.18 1032) scale(1.01 1)" x="0 29.87" y="0" font-size="60.5" fill="#808080" stroke="#ffffff" stroke-width="0.5">16</text></g>
<clipPath id="lc9"><path d="M1304.4 665 H1377.4 V719.7 H1304.4 Z M1323.86 718.7 H1328.56 V728 H1323.86 Z M1340.2 718.7 H1377.4 V729 H1340.2 Z"/></clipPath>
<g clip-path="url(#lc9)"><text transform="translate(1308.44 725) scale(0.99 1)" x="0 31.34" y="0" font-size="60.5" fill="#808080" stroke="#ffffff" stroke-width="0.5">17</text></g>
</svg>
</body></html>
